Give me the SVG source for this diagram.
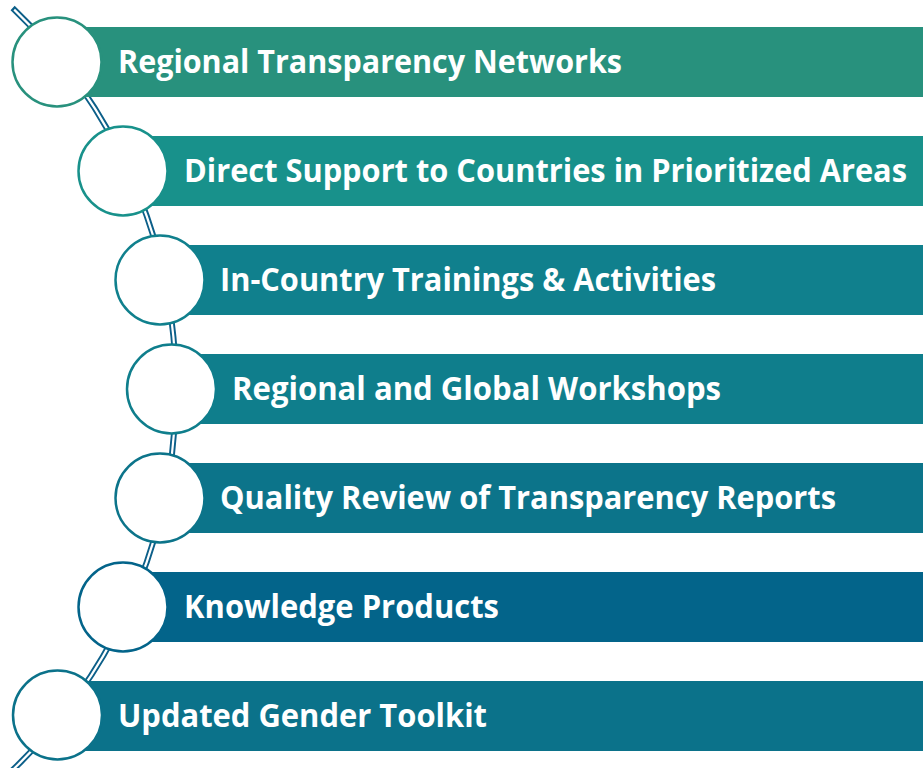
<svg xmlns="http://www.w3.org/2000/svg" width="923" height="768" viewBox="0 0 923 768">
<style>
.lbl{font-family:"Open Sans","Noto Sans","Liberation Sans",sans-serif;font-weight:700;font-size:32px;fill:#ffffff}
.dot{fill:#ffffff;stroke-width:2.5}
</style>
<rect width="923" height="768" fill="#ffffff"/>
<g id="connectors">
<path d="M 12.6 8 A 526 526 0 0 1 1.8 780" fill="none" stroke="#0c5f89" stroke-width="6"/>
<path d="M 14.2 9.6 A 526 526 0 0 1 1.8 780" fill="none" stroke="#ffffff" stroke-width="2.2"/>
</g>
<g id="n1">
<rect x="57" y="27" width="866" height="70" fill="#28917d"/>
<circle class="dot" cx="57" cy="62" r="44.5" stroke="#28917d"/>
<text class="lbl" x="118" y="73" textLength="504" lengthAdjust="spacingAndGlyphs">Regional Transparency Networks</text>
</g>
<g id="n2">
<rect x="123" y="136" width="800" height="70" fill="#18918b"/>
<circle class="dot" cx="123" cy="171" r="44.5" stroke="#18918b"/>
<text class="lbl" x="184" y="182" font-size="30" textLength="723" lengthAdjust="spacingAndGlyphs">Direct Support to Countries in Prioritized Areas</text>
</g>
<g id="n3">
<rect x="160" y="245" width="763" height="70" fill="#10808d"/>
<circle class="dot" cx="160" cy="280" r="44.5" stroke="#10808d"/>
<text class="lbl" x="220" y="291" textLength="496" lengthAdjust="spacingAndGlyphs">In-Country Trainings &amp; Activities</text>
</g>
<g id="n4">
<rect x="171" y="354" width="752" height="70" fill="#0f7e8c"/>
<circle class="dot" cx="171.5" cy="389" r="44.5" stroke="#0f7e8c"/>
<text class="lbl" x="232" y="400" textLength="489" lengthAdjust="spacingAndGlyphs">Regional and Global Workshops</text>
</g>
<g id="n5">
<rect x="160" y="463" width="763" height="70" fill="#0c748a"/>
<circle class="dot" cx="160" cy="498" r="44.5" stroke="#0c748a"/>
<text class="lbl" x="220" y="509" textLength="616" lengthAdjust="spacingAndGlyphs">Quality Review of Transparency Reports</text>
</g>
<g id="n6">
<rect x="123" y="572" width="800" height="70" fill="#03648a"/>
<circle class="dot" cx="123" cy="607" r="44.5" stroke="#03648a"/>
<text class="lbl" x="184" y="618" textLength="315" lengthAdjust="spacingAndGlyphs">Knowledge Products</text>
</g>
<g id="n7">
<rect x="57" y="681" width="866" height="70" fill="#0b728a"/>
<circle class="dot" cx="57.5" cy="715" r="44.5" stroke="#0b728a"/>
<text class="lbl" x="118" y="727" textLength="369" lengthAdjust="spacingAndGlyphs">Updated Gender Toolkit</text>
</g>
</svg>
